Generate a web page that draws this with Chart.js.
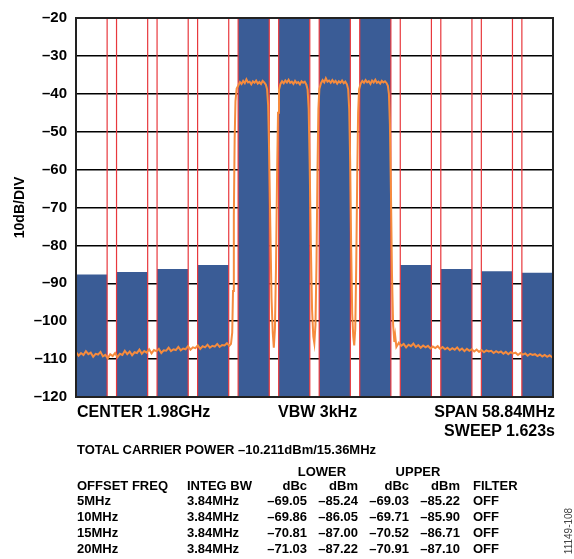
<!DOCTYPE html>
<html>
<head>
<meta charset="utf-8">
<script src="https://cdn.jsdelivr.net/npm/chart.js@4.4.1/dist/chart.umd.min.js"></script>
<style>
  body { margin: 0; background: #fff; }
  #wrap { position: relative; width: 574px; height: 559px; overflow: hidden;
          font-family: "Liberation Sans", Arial, sans-serif; font-weight: bold; color: #000; }
  #chartBox { position: absolute; left: 0; top: 0; width: 574px; height: 420px; }
  .t { position: absolute; white-space: nowrap; line-height: 1; }
</style>
</head>
<body>
<div id="wrap">
  <div id="chartBox"><canvas id="acprChart"></canvas></div>
</div>
<script>
// y axis
const yTicks = [-20, -30, -40, -50, -60, -70, -80, -90, -100, -110, -120];
const yTickLabels = ['–20', '–30', '–40', '–50', '–60', '–70', '–80', '–90', '–100', '–110', '–120'];

// span 58.84MHz around 1.98GHz, offsets in MHz
const spanMHz = 58.84;
const channelBw = 3.84;
const channelSpacing = 5;

// measurement channels: 4 lower adj, 4 carriers, 4 upper adj (centre offset, MHz)
const channelCenters = [-27.5, -22.5, -17.5, -12.5, -7.5, -2.5, 2.5, 7.5, 12.5, 17.5, 22.5, 27.5];
const channelLevels = [-87.7, -87.0, -86.2, -85.2, -20, -20, -20, -20, -85.2, -86.2, -86.8, -87.2];

// spectrum trace
const traceMHz = [
  -29.4, -29.1, -28.8, -28.5, -28.2, -27.9, -27.6, -27.3, -27.0, -26.7, -26.4, -26.1, -25.8, -25.5, -25.2, -24.9,
  -24.6, -24.3, -24.0, -23.7, -23.4, -23.1, -22.8, -22.5, -22.2, -21.9, -21.6, -21.3, -21.0, -20.7, -20.4, -20.1,
  -19.8, -19.5, -19.2, -18.9, -18.6, -18.3, -18.0, -17.7, -17.4, -17.1, -16.8, -16.5, -16.2, -15.9, -15.6, -15.3,
  -15.0, -14.7, -14.4, -14.1, -13.8, -13.5, -13.2, -12.9, -12.6, -12.3, -12.0, -11.7, -11.4, -11.1, -10.8, -10.5,
  -10.3, -10.15, -10.05, -9.95, -9.85, -9.75, -9.6, -9.4, -9.2, -9.0, -8.8, -8.6, -8.4, -8.2, -8.0, -7.8,
  -7.6, -7.4, -7.2, -7.0, -6.8, -6.6, -6.4, -6.2, -6.0, -5.85, -5.72, -5.6, -5.45, -5.3, -5.15, -5.02,
  -4.88, -4.75, -4.62, -4.5, -4.38, -4.2, -4.0, -3.8, -3.6, -3.4, -3.2, -3.0, -2.8, -2.6, -2.4, -2.2,
  -2.0, -1.8, -1.6, -1.4, -1.2, -1.0, -0.85, -0.72, -0.6, -0.45, -0.3, -0.15, -0.02, 0.12, 0.25, 0.37,
  0.48, 0.6, 0.8, 1.0, 1.2, 1.4, 1.6, 1.8, 2.0, 2.2, 2.4, 2.6, 2.8, 3.0, 3.2, 3.4,
  3.6, 3.8, 4.0, 4.15, 4.28, 4.4, 4.52, 4.65, 4.78, 4.9, 5.03, 5.15, 5.27, 5.38, 5.5, 5.7,
  5.9, 6.1, 6.3, 6.5, 6.7, 6.9, 7.1, 7.3, 7.5, 7.7, 7.9, 8.1, 8.3, 8.5, 8.7, 8.9,
  9.05, 9.18, 9.3, 9.43, 9.56, 9.7, 9.85, 9.95, 10.1, 10.4, 10.7, 11.0, 11.3, 11.6, 11.9, 12.2,
  12.5, 12.8, 13.1, 13.4, 13.7, 14.0, 14.3, 14.6, 14.9, 15.2, 15.5, 15.8, 16.1, 16.4, 16.7, 17.0,
  17.3, 17.6, 17.9, 18.2, 18.5, 18.8, 19.1, 19.4, 19.7, 20.0, 20.3, 20.6, 20.9, 21.2, 21.5, 21.8,
  22.1, 22.4, 22.7, 23.0, 23.3, 23.6, 23.9, 24.2, 24.5, 24.8, 25.1, 25.4, 25.7, 26.0, 26.3, 26.6,
  26.9, 27.2, 27.5, 27.8, 28.1, 28.4, 28.7, 29.0, 29.3, 29.42
];
const traceDbm = [
  -108.2, -109.1, -108.4, -108.9, -107.9, -108.7, -108.3, -109.4, -108.6, -108.8, -108.1, -109.3, -108.9, -109.8, -108.7, -109.2,
  -108.4, -109.5, -108.6, -108.9, -107.8, -108.7, -108.0, -109.0, -108.2, -108.4, -107.5, -108.6, -107.9, -108.3, -107.4, -108.5,
  -107.6, -107.9, -107.3, -108.4, -107.7, -107.8, -107.0, -107.9, -107.4, -107.6, -106.8, -107.7, -107.2, -107.4, -106.6, -107.5,
  -106.9, -107.1, -106.4, -107.3, -106.6, -106.9, -106.2, -107.0, -106.5, -106.7, -106.0, -106.8, -106.3, -106.4, -105.8, -106.5,
  -106.0, -103, -92, -72, -52, -42, -38.6, -37.8, -36.9, -37.4, -36.6, -37.2, -36.2, -37.0, -36.8, -37.5,
  -36.7, -37.1, -36.5, -37.3, -36.9, -37.4, -36.6, -37.0, -37.6, -38.8, -43, -55, -75, -94, -103, -107,
  -102, -86, -62, -45, -38.9, -37.4, -36.7, -37.2, -36.5, -37.0, -36.3, -37.1, -36.8, -37.4, -36.6, -37.2,
  -36.9, -37.5, -36.7, -37.1, -36.8, -37.6, -38.9, -44, -58, -80, -97, -104, -105.8, -101, -84, -60,
  -44, -38.7, -37.2, -36.4, -37.0, -35.9, -36.8, -36.5, -37.1, -36.4, -37.0, -36.6, -37.3, -36.7, -37.1, -36.5,
  -37.2, -36.8, -37.5, -38.8, -44, -58, -80, -98, -104, -106.4, -102, -85, -62, -45, -38.8, -37.3,
  -36.6, -37.1, -36.4, -37.0, -36.7, -37.4, -36.5, -37.0, -36.3, -37.1, -36.8, -37.3, -36.6, -37.0, -36.7, -37.2,
  -37.9, -40, -48, -66, -88, -101, -105.5, -103.8, -106.8, -105.7, -106.5, -106.0, -106.9, -106.2, -106.6, -105.9,
  -106.8, -106.3, -107.0, -106.4, -106.9, -106.5, -107.2, -106.7, -107.1, -106.6, -107.3, -106.8, -107.4, -107.0, -107.6, -107.1,
  -107.5, -106.9, -107.7, -107.2, -107.9, -107.3, -107.8, -107.4, -108.0, -107.5, -108.1, -107.6, -108.2, -107.7, -108.0, -107.8,
  -108.4, -107.9, -108.3, -108.0, -108.6, -108.1, -108.7, -108.2, -108.5, -108.3, -108.9, -108.4, -108.8, -108.5, -109.1, -108.6,
  -108.9, -108.7, -109.2, -108.8, -109.3, -108.9, -109.4, -109.0, -109.5, -109.2
];

// ACLR table
const offsetFreq = ['5MHz', '10MHz', '15MHz', '20MHz'];
const integBw = ['3.84MHz', '3.84MHz', '3.84MHz', '3.84MHz'];
const lowerDbc = ['–69.05', '–69.86', '–70.81', '–71.03'];
const lowerDbm = ['–85.24', '–86.05', '–87.00', '–87.22'];
const upperDbc = ['–69.03', '–69.71', '–70.52', '–70.91'];
const upperDbm = ['–85.22', '–85.90', '–86.71', '–87.10'];
const filterCol = ['OFF', 'OFF', 'OFF', 'OFF'];

const channelEdges = [];
channelCenters.forEach(c => {
  channelEdges.push(c - channelBw / 2, c + channelBw / 2);
});

const markerLines = {
  id: 'markerLines',
  afterDatasetDraw(chart, args) {
    if (args.index !== 1) return;
    const { ctx, chartArea, scales } = chart;
    ctx.save();
    ctx.beginPath();
    ctx.rect(chartArea.left, chartArea.top, chartArea.width, chartArea.height);
    ctx.clip();
    ctx.strokeStyle = '#e8383d';
    ctx.lineWidth = 1.2;
    channelEdges.forEach(f => {
      const x = scales.x.getPixelForValue(f);
      ctx.beginPath();
      ctx.moveTo(x, chartArea.top);
      ctx.lineTo(x, chartArea.bottom);
      ctx.stroke();
    });
    ctx.restore();
  },
  afterDraw(chart) {
    const { ctx, chartArea } = chart;
    ctx.save();
    ctx.strokeStyle = '#222';
    ctx.lineWidth = 2;
    ctx.strokeRect(chartArea.left, chartArea.top, chartArea.width, chartArea.height);
    ctx.restore();
  }
};

const ctx = document.getElementById('acprChart').getContext('2d');
const acprChart = new Chart(ctx, {
  type: 'bar',
  data: {
    datasets: [{
      type: 'line',
      data: traceMHz.map((f, i) => ({ x: f, y: traceDbm[i] })),
      borderColor: '#f68b3d',
      borderWidth: 2,
      pointRadius: 0,
      tension: 0,
      order: 0
    }, {
      type: 'bar',
      data: channelCenters.map((f, i) => ({ x: f, y: [-120, channelLevels[i]] })),
      backgroundColor: '#3a5c96',
      categoryPercentage: 1,
      barPercentage: channelBw / channelSpacing,
      order: 1
    }]
  },
  options: {
    responsive: true,
    maintainAspectRatio: false,
    animation: false,
    layout: { padding: { top: 14, right: 21, bottom: 23, left: 0 } },
    plugins: {
      legend: { display: false },
      tooltip: { enabled: false }
    },
    scales: {
      x: {
        type: 'linear',
        display: false,
        offset: false,
        min: -spanMHz / 2,
        max: spanMHz / 2
      },
      y: {
        min: -120,
        max: -20,
        afterBuildTicks: scale => { scale.ticks = yTicks.map(v => ({ value: v })); },
        afterFit: scale => { scale.width = 76; },
        grid: { color: '#000', lineWidth: 1.5, drawTicks: false },
        border: { display: false },
        ticks: {
          padding: 9,
          color: '#000',
          font: { family: '"Liberation Sans", Arial, sans-serif', size: 15, weight: 'bold' },
          callback: v => yTickLabels[yTicks.indexOf(v)]
        },
        title: {
          display: true,
          text: '10dB/DIV',
          color: '#000',
          padding: { top: 12 },
          font: { family: '"Liberation Sans", Arial, sans-serif', size: 14, weight: 'bold' }
        }
      }
    }
  },
  plugins: [markerLines]
});

// text under the plot
const wrap = document.getElementById('wrap');
function put(text, x, y, size, align, extra) {
  const d = document.createElement('div');
  d.className = 't';
  d.textContent = text;
  d.style.top = y + 'px';
  d.style.fontSize = size + 'px';
  if (align === 'right') { d.style.right = (574 - x) + 'px'; d.style.textAlign = 'right'; }
  else if (align === 'center') { d.style.left = (x - 100) + 'px'; d.style.width = '200px'; d.style.textAlign = 'center'; }
  else d.style.left = x + 'px';
  if (extra) Object.assign(d.style, extra);
  wrap.appendChild(d);
}

put('CENTER 1.98GHz', 77, 404, 16);
put('VBW 3kHz', 278, 404, 16);
put('SPAN 58.84MHz', 555, 404, 16, 'right');
put('SWEEP 1.623s', 555, 423, 16, 'right');
put('TOTAL CARRIER POWER –10.211dBm/15.36MHz', 77, 443, 13);

put('LOWER', 322, 465, 13, 'center');
put('UPPER', 418, 465, 13, 'center');
put('OFFSET FREQ', 77, 479, 13);
put('INTEG BW', 187, 479, 13);
put('dBc', 307, 479, 13, 'right');
put('dBm', 358, 479, 13, 'right');
put('dBc', 409, 479, 13, 'right');
put('dBm', 460, 479, 13, 'right');
put('FILTER', 473, 479, 13);

const rowTops = [494, 510, 526, 542];
offsetFreq.forEach((o, i) => {
  const y = rowTops[i];
  put(o, 77, y, 13);
  put(integBw[i], 187, y, 13);
  put(lowerDbc[i], 307, y, 13, 'right');
  put(lowerDbm[i], 358, y, 13, 'right');
  put(upperDbc[i], 409, y, 13, 'right');
  put(upperDbm[i], 460, y, 13, 'right');
  put(filterCol[i], 473, y, 13);
});

put('11149-108', 569, 531, 10, 'center', {
  fontWeight: 'normal', color: '#444', transform: 'translate(-50%, -50%) rotate(-90deg)',
  left: '569px', width: 'auto', transformOrigin: 'center'
});
</script>
</body>
</html>
